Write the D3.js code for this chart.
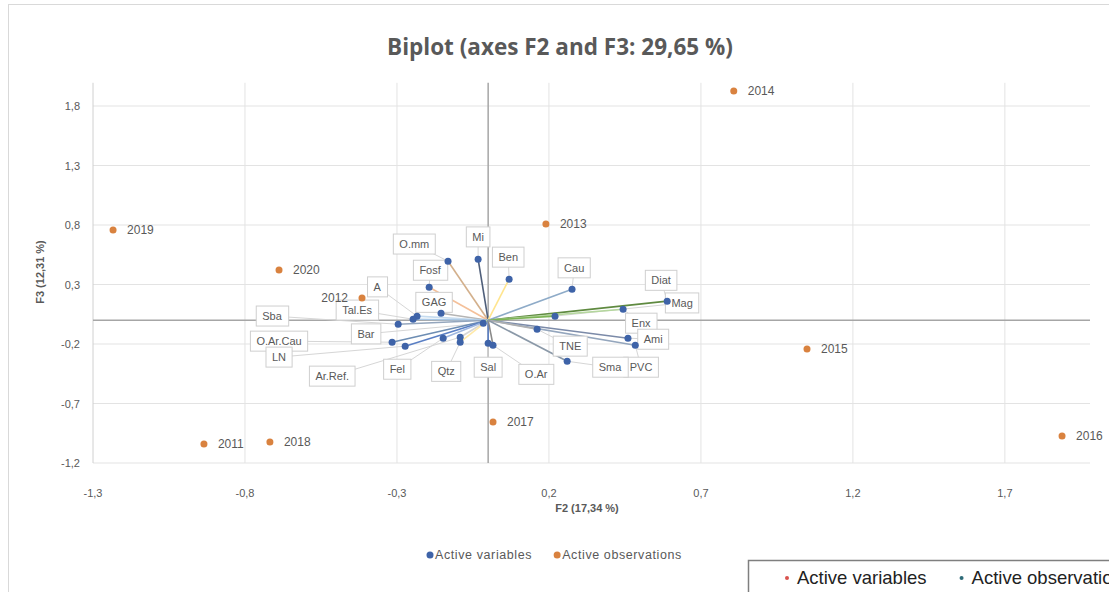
<!DOCTYPE html>
<html><head><meta charset="utf-8">
<script src="https://cdn.jsdelivr.net/npm/d3@7"></script>
<style>
html,body{margin:0;padding:0;background:#fff;}
svg{display:block;}
</style></head>
<body>
<svg id="chart" width="1109" height="592"></svg>
<script>
// ---- data ----
const varNames = ["O.mm","Mi","Ben","Fosf","GAG","A","Tal.Es","Sba","O.Ar.Cau","LN","Ar.Ref.","Fel","Qtz","Bar","Sal","O.Ar","Cau","Diat","Enx","Mag","Ami","PVC","TNE","Sma"];
const varX = [-0.132,-0.033,0.069,-0.194,-0.155,-0.234,-0.247,-0.296,-0.316,-0.273,-0.092,-0.148,-0.092,-0.016,0.000,0.016,0.276,0.589,0.444,0.220,0.460,0.484,0.161,0.260];
const varY = [0.496,0.513,0.345,0.277,0.059,0.034,0.008,-0.034,-0.185,-0.218,-0.143,-0.151,-0.185,-0.025,-0.193,-0.210,0.261,0.160,0.092,0.034,-0.151,-0.210,-0.076,-0.345];
// label anchor positions (data units)
const varLabX = [-0.243,-0.033,0.066,-0.191,-0.178,-0.365,-0.431,-0.711,-0.688,-0.688,-0.513,-0.299,-0.138,-0.402,0.000,0.158,0.283,0.569,0.503,0.638,0.543,0.503,0.270,0.401];
const varLabY = [0.640,0.700,0.530,0.420,0.150,0.280,0.085,0.035,-0.176,-0.310,-0.470,-0.412,-0.430,-0.115,-0.395,-0.455,0.440,0.335,-0.025,0.145,-0.160,-0.395,-0.218,-0.395];
const varColors = ["#d3b08c","#4f5f7a","#ffe58f","#f4c09a","#b5b5b5","#c5dbef","#a9c8e6","#94a6bd","#6d8db3","#5a7fc4","#d6d6d6","#9fb7df","#ffe9a8","#b5d79e","#5a7fc4","#8a8a8a","#8eabc8","#5f8a40","#b5d79e","#7cb356","#7b8aa8","#94a6bd","#b0b0b0","#8b99a8"];

const obsNames = ["2014","2019","2013","2020","2012","2015","2017","2011","2018","2016"];
const obsX = [0.808,-1.234,0.190,-0.688,-0.415,1.049,0.016,-0.935,-0.718,1.888];
const obsY = [1.926,0.758,0.808,0.422,0.187,-0.242,-0.855,-1.040,-1.024,-0.973];
const obsLabelLeft = [false,false,false,false,true,false,false,false,false,false];

const xTicks = [-1.3,-0.8,-0.3,0.2,0.7,1.2,1.7];
const yTicks = [-1.2,-0.7,-0.2,0.3,0.8,1.3,1.8];
const fmt = v => d3.format(".1f")(v).replace(".", ",").replace("−","-");

// ---- layout ----
const svg = d3.select("#chart");
const font = "'Liberation Sans', Arial, sans-serif";
const x = d3.scaleLinear().domain([-1.3, 1.98]).range([93, 1090]);
const y = d3.scaleLinear().domain([-1.2, 1.8]).range([463, 106]);
const yTop = 1.995;

// chart frame
svg.append("rect").attr("x",8.5).attr("y",4.5).attr("width",1120).attr("height",620)
  .attr("fill","none").attr("stroke","#d9d9d9");

// title
svg.append("text").attr("x",560).attr("y",55).attr("text-anchor","middle")
  .attr("font-family","'Open Sans', 'Liberation Sans', sans-serif").attr("font-weight","bold").attr("font-size",22.5).attr("fill","#595959")
  .text("Biplot (axes F2 and  F3: 29,65 %)");

// grid
const g = svg.append("g");
g.selectAll("line.hg").data(yTicks).enter().append("line")
  .attr("x1",x(-1.3)).attr("x2",x(1.98)).attr("y1",d=>y(d)).attr("y2",d=>y(d))
  .attr("stroke","#e3e3e3").attr("stroke-width",1);
g.selectAll("line.vg").data(xTicks).enter().append("line")
  .attr("y1",y(-1.2)).attr("y2",y(yTop)).attr("x1",d=>x(d)).attr("x2",d=>x(d))
  .attr("stroke",(d,i)=>i===0?"#d0d0d0":"#e3e3e3").attr("stroke-width",1);
// zero axes
g.append("line").attr("x1",x(-1.3)).attr("x2",x(1.98)).attr("y1",y(0)).attr("y2",y(0))
  .attr("stroke","#a6a6a6").attr("stroke-width",1.5);
g.append("line").attr("x1",x(0)).attr("x2",x(0)).attr("y1",y(-1.2)).attr("y2",y(yTop))
  .attr("stroke","#a6a6a6").attr("stroke-width",1.5);

// tick labels
svg.selectAll("text.xt").data(xTicks).enter().append("text")
  .attr("x",d=>x(d)).attr("y",497).attr("text-anchor","middle")
  .attr("font-family",font).attr("font-size",11).attr("fill","#595959").text(fmt);
svg.selectAll("text.yt").data(yTicks).enter().append("text")
  .attr("x",80).attr("y",d=>y(d)+4).attr("text-anchor","end")
  .attr("font-family",font).attr("font-size",11).attr("fill","#595959").text(fmt);

// axis titles
svg.append("text").attr("x",587).attr("y",512).attr("text-anchor","middle")
  .attr("font-family",font).attr("font-weight","bold").attr("font-size",11).attr("fill","#595959")
  .text("F2 (17,34 %)");
svg.append("text").attr("transform","translate(44,272) rotate(-90)").attr("text-anchor","middle")
  .attr("font-family",font).attr("font-weight","bold").attr("font-size",11).attr("fill","#595959")
  .text("F3 (12,31 %)");

// variable data
const vars = varNames.map((n,i)=>({n, x:varX[i], y:varY[i], lx:varLabX[i], ly:varLabY[i], c:varColors[i]}));
const obs = obsNames.map((n,i)=>({n, x:obsX[i], y:obsY[i], left:obsLabelLeft[i]}));

// leader lines
svg.append("g").selectAll("line").data(vars).enter().append("line")
  .attr("x1",d=>x(d.x)).attr("y1",d=>y(d.y)).attr("x2",d=>x(d.lx)).attr("y2",d=>y(d.ly))
  .attr("stroke","#d6d6d6").attr("stroke-width",1);

// vectors
svg.append("g").selectAll("line").data(vars).enter().append("line")
  .attr("x1",x(0)).attr("y1",y(0)).attr("x2",d=>x(d.x)).attr("y2",d=>y(d.y))
  .attr("stroke",d=>d.c).attr("stroke-width",1.6);

// variable label boxes
const lab = svg.append("g").selectAll("g").data(vars).enter().append("g")
  .attr("transform",d=>`translate(${x(d.lx)},${y(d.ly)})`);
lab.append("text").attr("text-anchor","middle").attr("y",4)
  .attr("font-family",font).attr("font-size",11).attr("fill","#595959").text(d=>d.n)
  .each(function(){ const b=this.getBBox(); d3.select(this.parentNode).insert("rect","text")
    .attr("x",b.x-6).attr("y",b.y-4).attr("width",b.width+12).attr("height",b.height+8)
    .attr("fill","#fff").attr("stroke","#cfcfcf"); });

// variable points
svg.append("g").selectAll("circle").data(vars).enter().append("circle")
  .attr("cx",d=>x(d.x)).attr("cy",d=>y(d.y)).attr("r",3.5).attr("fill","#3e63a8");

// observations
svg.append("g").selectAll("circle").data(obs).enter().append("circle")
  .attr("cx",d=>x(d.x)).attr("cy",d=>y(d.y)).attr("r",3.5).attr("fill","#d9823f");
svg.append("g").selectAll("text").data(obs).enter().append("text")
  .attr("x",d=>d.left ? x(d.x)-14 : x(d.x)+14).attr("y",d=>y(d.y)+4)
  .attr("text-anchor",d=>d.left?"end":"start")
  .attr("font-family",font).attr("font-size",12).attr("fill","#595959").text(d=>d.n);

// inner legend
const leg = [{t:"Active variables", c:"#3e63a8"},{t:"Active observations", c:"#d9823f"}];
const lg = svg.append("g").attr("transform","translate(430,555)");
let off = 0;
leg.forEach((d,i)=>{
  lg.append("circle").attr("cx",off).attr("cy",0).attr("r",3.5).attr("fill",d.c);
  const t = lg.append("text").attr("x",off+5).attr("y",4).attr("font-family",font)
    .attr("font-size",12.5).attr("letter-spacing",0.6).attr("fill","#595959").text(d.t);
  off += t.node().getComputedTextLength()+30;
});

// overlaid legend box (bottom right)
const lb = svg.append("g");
lb.append("rect").attr("x",748.5).attr("y",560.5).attr("width",400).attr("height",40)
  .attr("fill","#fff").attr("stroke","#7f7f7f").attr("stroke-width",1.5);
const leg2 = [{t:"Active variables", c:"#d9534f"},{t:"Active observations", c:"#2e6b78"}];
let off2 = 787;
leg2.forEach(d=>{
  lb.append("circle").attr("cx",off2).attr("cy",578).attr("r",2).attr("fill",d.c);
  const t = lb.append("text").attr("x",off2+10).attr("y",584).attr("font-family","'Liberation Sans Narrow', 'Liberation Sans', Arial, sans-serif")
    .attr("font-size",18.5).attr("fill","#222").text(d.t);
  off2 += t.node().getComputedTextLength()+45;
});
</script>
</body></html>
